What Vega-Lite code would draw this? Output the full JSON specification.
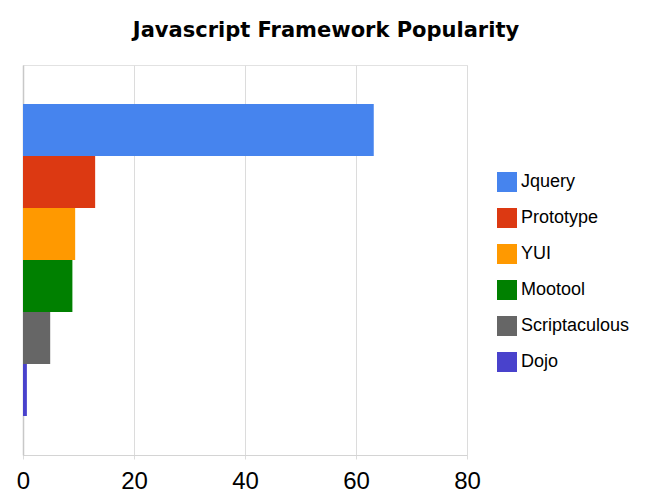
{
  "$schema": "https://vega.github.io/schema/vega-lite/v6.json",
  "width": 444,
  "height": 390,
  "autosize": "none",
  "padding": {"left": 23, "top": 65, "right": 186, "bottom": 48},
  "background": "white",
  "title": {
    "text": "Javascript Framework Popularity",
    "font": "DejaVu Sans",
    "fontSize": 21,
    "fontWeight": "bold",
    "color": "black",
    "anchor": "middle",
    "dx": 81,
    "offset": 24,
    "limit": 0
  },
  "config": {
    "view": {"stroke": "#e2e2e2", "strokeWidth": 1},
    "font": "Liberation Sans"
  },
  "data": {
    "values": [
      {"framework": "Jquery", "value": 63.2},
      {"framework": "Prototype", "value": 13.0},
      {"framework": "YUI", "value": 9.4},
      {"framework": "Mootool", "value": 8.9},
      {"framework": "Scriptaculous", "value": 4.9},
      {"framework": "Dojo", "value": 0.7}
    ]
  },
  "mark": {"type": "bar"},
  "encoding": {
    "y": {
      "field": "framework",
      "type": "nominal",
      "sort": ["Jquery", "Prototype", "YUI", "Mootool", "Scriptaculous", "Dojo"],
      "scale": {"paddingInner": 0, "paddingOuter": 0.75},
      "axis": {"labels": false, "ticks": false, "title": null, "domain": true, "domainColor": "#c8c8c8", "domainWidth": 1.5, "grid": false}
    },
    "x": {
      "field": "value",
      "type": "quantitative",
      "scale": {"domain": [0, 80], "nice": false},
      "axis": {
        "values": [0, 20, 40, 60, 80],
        "title": null,
        "grid": true,
        "gridColor": "#dcdcdc",
        "gridWidth": 1,
        "domainColor": "#d4d4d4",
        "tickColor": "#dcdcdc",
        "tickSize": 4,
        "labelFontSize": 24,
        "labelColor": "black",
        "labelPadding": 10,
        "labelFlush": false,
        "labelFont": "Liberation Sans"
      }
    },
    "color": {
      "field": "framework",
      "type": "nominal",
      "sort": ["Jquery", "Prototype", "YUI", "Mootool", "Scriptaculous", "Dojo"],
      "scale": {
        "domain": ["Jquery", "Prototype", "YUI", "Mootool", "Scriptaculous", "Dojo"],
        "range": ["#4684EE", "#DC3912", "#FF9900", "#008000", "#666666", "#4942CC"]
      },
      "legend": {
        "title": null,
        "orient": "none",
        "legendX": 474,
        "legendY": 107,
        "symbolType": "square",
        "symbolSize": 400,
        "symbolStrokeWidth": 0,
        "symbolOpacity": 1,
        "labelFontSize": 18,
        "labelFont": "Liberation Sans",
        "labelColor": "black",
        "labelOffset": 4,
        "rowPadding": 16,
        "labelLimit": 0
      }
    }
  }
}
